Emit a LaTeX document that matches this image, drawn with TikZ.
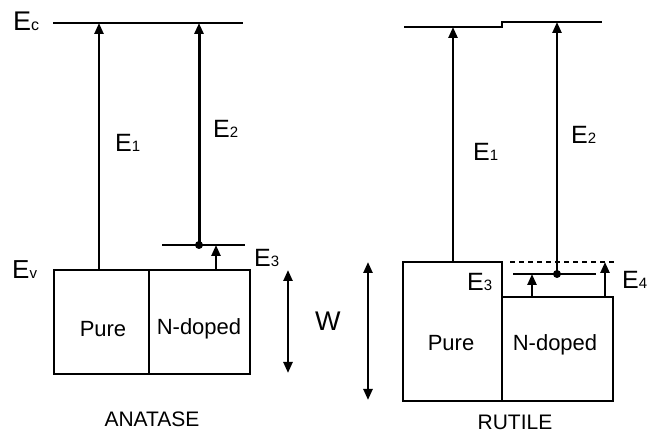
\documentclass[tikz,border=0pt]{standalone}
\usepackage{fontspec}
\setmainfont{Liberation Sans}
\usetikzlibrary{arrows.meta}
\newcommand\Elab[1]{{\fontsize{25}{29}\selectfont E}{\fontsize{15}{17}\selectfont #1}}
\tikzset{
  level/.style={line width=2.4pt},
  boxline/.style={line width=2.2pt},
  trans/.style={line width=2.4pt,-{Triangle[length=11pt,width=9pt]}},
  dbl/.style={line width=2.4pt,{Triangle[length=11pt,width=9pt]}-{Triangle[length=11pt,width=9pt]}},
  lab/.style={anchor=base west,inner sep=0pt},
  boxtxt/.style={anchor=base,inner sep=0pt,font=\fontsize{22}{26}\selectfont},
  title/.style={anchor=base,inner sep=0pt,font=\fontsize{21}{25}\selectfont},
  dotst/.style={circle,fill=black,inner sep=0pt,minimum size=8pt}
}
\begin{document}
\begin{tikzpicture}[x=1pt,y=-1pt]
\useasboundingbox[fill=white] (0,0) rectangle (648,435);
% ---------------- ANATASE ----------------
\coordinate (aEcL) at (53,23);
\coordinate (aEcR) at (243,23);
\draw[level] (aEcL) -- (aEcR);
\node[lab] (aEc) at (13,31) {{\fontsize{27}{31}\selectfont E}{\fontsize{16}{18}\selectfont c}};
\node[lab] (aEv) at (12,279) {{\fontsize{26}{30}\selectfont E}{\fontsize{15}{17}\selectfont v}};
% box
\coordinate (aBtl) at (54,270);
\coordinate (aBbr) at (250,374);
\draw[boxline] (aBtl) rectangle (aBbr);
\coordinate (aDivT) at (149,270);
\coordinate (aDivB) at (149,374);
\draw[boxline,line width=1.8pt] (aDivT) -- (aDivB);
\node[boxtxt] (aPure) at (103,337) {Pure};
\node[boxtxt] (aNd) at (199,335) {N-doped};
% E1
\coordinate (aE1b) at (99,270);
\coordinate (aE1t) at (99,23);
\draw[trans] (aE1b) -- (aE1t);
\node[lab] (aE1) at (115,152) {\Elab{1}};
% E3 level and dot
\coordinate (aE3L) at (162,245);
\coordinate (aE3R) at (245,245);
\draw[level] (aE3L) -- (aE3R);
\node[dotst] (aDot) at (199,245) {};
\coordinate (aE2t) at (199,23);
\draw[trans,line width=3pt] (aDot.center) -- (aE2t);
\node[lab] (aE2) at (213,138) {\Elab{2}};
\coordinate (aE3b) at (216,270);
\coordinate (aE3t) at (216,245);
\draw[trans] (aE3b) -- (aE3t);
\node[lab] (aE3) at (254,267) {\Elab{3}};
% W
\coordinate (aWt) at (288,270);
\coordinate (aWb) at (288,373);
\draw[dbl] (aWt) -- (aWb);
\node[lab] (W) at (315,331) {\fontsize{27}{31}\selectfont W};
\node[title] (anat) at (152,427) {ANATASE};
% ---------------- RUTILE ----------------
\coordinate (rC1) at (404,27);
\coordinate (rC2) at (502,27);
\coordinate (rC3) at (502,22);
\coordinate (rC4) at (602,22);
\draw[level] (rC1) -- (rC2) -- (rC3) -- (rC4);
% boxes
\draw[boxline] (403,262) rectangle (502,401);
\draw[boxline] (502,297) rectangle (613,401);
\node[boxtxt] (rPure) at (451,351) {Pure};
\node[boxtxt] (rNd) at (555,351) {N-doped};
% dashed
\coordinate (rDL) at (510,262);
\coordinate (rDR) at (614,262);
\draw[line width=2pt,dash pattern=on 5pt off 4pt] (rDL) -- (rDR);
% E3 level
\coordinate (rE3L) at (513,274);
\coordinate (rE3R) at (596,274);
\draw[level] (rE3L) -- (rE3R);
\node[dotst] (rDot) at (557,274) {};
% transitions
\coordinate (rE1b) at (453,262);
\coordinate (rE1t) at (453,27);
\draw[trans] (rE1b) -- (rE1t);
\node[lab] (rE1) at (473,161) {\Elab{1}};
\coordinate (rE2t) at (557,22);
\draw[trans] (rDot.center) -- (rE2t);
\node[lab] (rE2) at (571,144) {\Elab{2}};
\coordinate (rE3b) at (532,297);
\coordinate (rE3t) at (532,274);
\draw[trans] (rE3b) -- (rE3t);
\node[lab] (rE3) at (467,291) {\Elab{3}};
\coordinate (rE4b) at (605,297);
\coordinate (rE4t) at (605,262);
\draw[trans] (rE4b) -- (rE4t);
\node[lab] (rE4) at (622,289) {\Elab{4}};
% W
\coordinate (rWt) at (368,262);
\coordinate (rWb) at (368,400);
\draw[dbl] (rWt) -- (rWb);
\node[title] (rut) at (515,430) {RUTILE};
\end{tikzpicture}
\end{document}
